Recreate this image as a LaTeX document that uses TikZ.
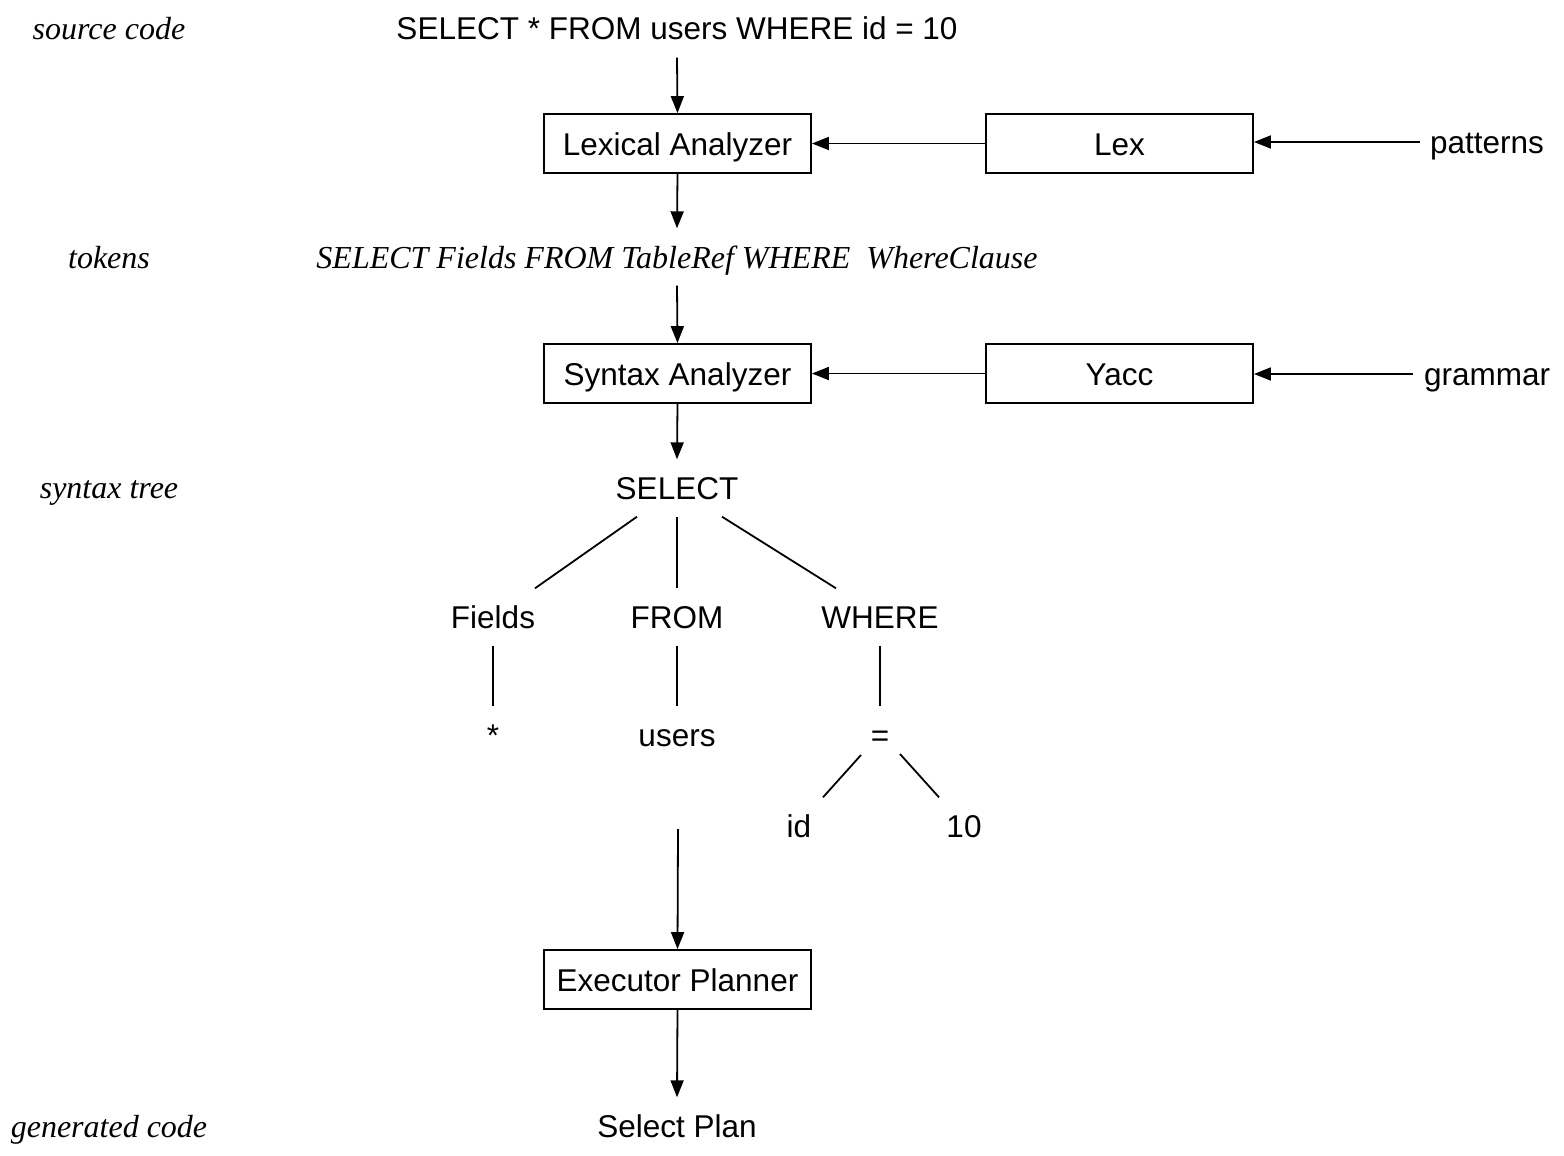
\documentclass[tikz,border=0pt]{standalone}
\usepackage{fontspec}
\setmainfont{Liberation Sans}
\newfontfamily\serifit{Liberation Serif}
\usetikzlibrary{arrows.meta}
\begin{document}
\begin{tikzpicture}[x=1pt,y=-1pt,
  txt/.style={inner sep=0pt, text height=26pt, text depth=4pt, minimum height=57pt,
    font=\fontsize{31.5pt}{37pt}\selectfont},
  itl/.style={txt, font=\fontsize{32pt}{38pt}\selectfont\serifit\itshape},
  box/.style={draw, line width=1.8pt, minimum width=267pt, minimum height=59pt, inner sep=0pt,
    text height=23pt, text depth=0pt, font=\fontsize{31.5pt}{37pt}\selectfont},
  arr/.style={line width=1.8pt, -{Triangle[length=17pt,width=13pt]}},
  ln/.style={line width=1.8pt}]
\useasboundingbox (0,0) rectangle (1564,1156);
% side labels
\node[itl] (lsrc) at (109,29) {source code};
\node[itl] (ltok) at (109,257) {tokens};
\node[itl] (ltree) at (109,487) {syntax tree};
\node[itl] (lgen) at (109,1126) {generated code};
% main flow
\node[txt] (src) at (677,29) {SELECT * FROM users WHERE id = 10};
\node[box] (lexa) at (677.5,143.5) {Lexical Analyzer};
\node[box] (lex) at (1119.5,143.5) {Lex};
\node[txt] (pat) at (1487,142) {patterns};
\node[itl] (tok) at (677,257) {SELECT Fields FROM TableRef WHERE\ \ WhereClause};
\node[box] (syn) at (677.5,373.5) {Syntax Analyzer};
\node[box] (yacc) at (1119.5,373.5) {Yacc};
\node[txt] (gram) at (1487,374) {grammar};
% tree
\node[txt] (sel) at (677,488) {SELECT};
\node[txt] (fields) at (493,617) {Fields};
\node[txt] (from) at (677,617) {FROM};
\node[txt] (where) at (880,617) {WHERE};
\node[txt] (star) at (493,735) {*};
\node[txt] (users) at (677,735) {users};
\node[txt] (eq) at (880,735) {=};
\node[txt] (id) at (799,826) {id};
\node[txt] (ten) at (964,826) {10};
\node[box] (exec) at (677.5,979.5) {Executor Planner};
\node[txt] (plan) at (677,1126) {Select Plan};
\coordinate (patA) at ([xshift=-10pt]pat.west);
\coordinate (gramA) at ([xshift=-11pt]gram.west);
\coordinate (usersA) at ([xshift=1pt,yshift=-94pt]users.center);
% connectors
\draw[arr] (src.south) -- (lexa.north);
\draw[arr] (lex.west) -- (lexa.east);
\draw[arr] (patA) -- (patA -| lex.east);
\draw[arr] (lexa.south) -- (tok.north);
\draw[arr] (tok.south) -- (syn.north);
\draw[arr] (yacc.west) -- (syn.east);
\draw[arr] (gramA) -- (gramA -| yacc.east);
\draw[arr] (syn.south) -- (sel.north);
\draw[ln] ([xshift=-40pt]sel.south) -- ([xshift=42pt]fields.north);
\draw[ln] (sel.south) -- (from.north);
\draw[ln] ([xshift=45pt]sel.south) -- ([xshift=-44pt]where.north);
\draw[ln] (fields.south) -- (star.north);
\draw[ln] (from.south) -- (users.north);
\draw[ln] (where.south) -- (eq.north);
\draw[ln] ([xshift=-19pt,yshift=-20pt]eq.center) -- ([xshift=24pt]id.north);
\draw[ln] ([xshift=20pt,yshift=-19pt]eq.center) -- ([xshift=-25pt]ten.north);
\draw[arr] (usersA) -- (exec.north);
\draw[arr] (exec.south) -- (plan.north);
\end{tikzpicture}
\end{document}
